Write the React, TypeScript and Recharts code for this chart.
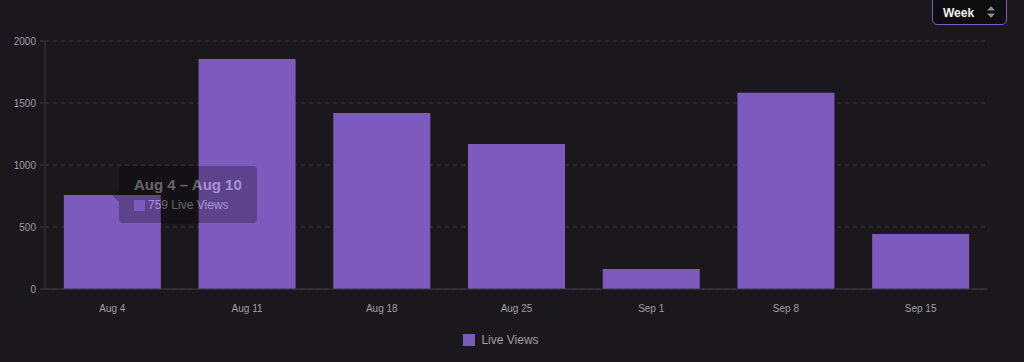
import React from "react";
import {
  BarChart,
  Bar,
  XAxis,
  YAxis,
  CartesianGrid,
  Tooltip,
  Legend,
} from "recharts";

const weeks = ["Aug 4", "Aug 11", "Aug 18", "Aug 25", "Sep 1", "Sep 8", "Sep 15"];
const weekEnds = ["Aug 10", "Aug 17", "Aug 24", "Aug 31", "Sep 7", "Sep 14", "Sep 21"];
const liveViews = [759, 1855, 1420, 1170, 162, 1582, 444];
const yTicks = [0, 500, 1000, 1500, 2000];

const data = weeks.map((w, i) => ({ week: w, end: weekEnds[i], views: liveViews[i] }));

const BG = "#1b181d";
const BAR = "#7d5bbe";
const LINE = "#3a373e";
const FONT = "'Liberation Sans', Arial, Helvetica, sans-serif";

// tooltip is caught mid-fade in the reference, hence the low opacity
function WeekTooltip({ active, payload }: any) {
  if (!active || !payload || !payload.length) return null;
  const p = payload[0].payload;
  return (
    <div style={{ position: "relative", opacity: 0.32, fontFamily: FONT }}>
      <div
        style={{
          position: "absolute",
          left: -6,
          top: 24,
          width: 0,
          height: 0,
          borderTop: "6px solid transparent",
          borderBottom: "6px solid transparent",
          borderRight: "6px solid rgba(0,0,0,0.8)",
        }}
      />
      <div
        style={{
          width: 138,
          height: 57,
          boxSizing: "border-box",
          background: "rgba(0,0,0,0.8)",
          borderRadius: 4,
          padding: "10px 0 0 15px",
          color: "#ffffff",
        }}
      >
        <div style={{ fontSize: 15, fontWeight: 700, lineHeight: "18px" }}>
          {p.week} – {p.end}
        </div>
        <div style={{ display: "flex", alignItems: "center", marginTop: 4, fontSize: 12 }}>
          <span
            style={{
              width: 11,
              height: 11,
              background: BAR,
              marginRight: 3,
              display: "inline-block",
            }}
          />
          {p.views} Live Views
        </div>
      </div>
    </div>
  );
}

function LegendContent() {
  return (
    <div
      style={{
        display: "flex",
        justifyContent: "center",
        alignItems: "center",
        paddingTop: 14,
        paddingLeft: 14,
        fontFamily: FONT,
        fontSize: 12,
        color: "#a19da6",
      }}
    >
      <span style={{ width: 12, height: 12, background: BAR, marginRight: 6, display: "inline-block" }} />
      Live Views
    </div>
  );
}

export default function App() {
  return (
    <div style={{ position: "relative", width: 1024, height: 362, background: BG, overflow: "hidden" }}>
      <style>{`body{margin:0;background:${BG};}`}</style>
      <BarChart
        width={1024}
        height={362}
        data={data}
        margin={{ top: 41, right: 36, bottom: 0, left: 0 }}
        barCategoryGap="14%"
      >
        <CartesianGrid vertical={false} strokeDasharray="4 4" stroke={LINE} />
        <XAxis
          dataKey="week"
          height={30}
          tickLine={false}
          axisLine={{ stroke: LINE }}
          tick={{ fontSize: 10, fill: "#a19da6", fontFamily: FONT }}
          tickMargin={10}
        />
        <YAxis
          width={45}
          domain={[0, 2000]}
          ticks={yTicks}
          tickLine={{ stroke: LINE }}
          tickSize={5}
          axisLine={{ stroke: LINE }}
          tick={{ fontSize: 10, fill: "#a19da6", fontFamily: FONT }}
          tickMargin={4}
        />
        <Tooltip
          content={<WeekTooltip />}
          defaultIndex={0}
          active
          cursor={false}
          position={{ x: 119, y: 166 }}
          isAnimationActive={false}
          wrapperStyle={{ outline: "none" }}
        />
        <Legend verticalAlign="bottom" height={43} content={<LegendContent />} />
        <Bar dataKey="views" name="Live Views" fill={BAR} isAnimationActive={false} />
      </BarChart>
      <div
        style={{
          position: "absolute",
          left: 932,
          top: -4,
          width: 75,
          height: 29,
          boxSizing: "border-box",
          border: "1px solid #7a5cc2",
          borderRadius: 5,
          background: "#0e0d10",
          fontFamily: FONT,
          fontSize: 12,
          fontWeight: 700,
          color: "#f2f2f2",
          display: "flex",
          alignItems: "center",
          paddingTop: 4,
          paddingLeft: 10,
        }}
      >
        Week
        <svg width="8" height="12" viewBox="0 0 8 12" style={{ position: "absolute", left: 54, top: 9 }}>
          <path d="M4 0 L8 4.5 L0 4.5 Z" fill="#8e8a93" />
          <path d="M4 12 L8 7.5 L0 7.5 Z" fill="#8e8a93" />
        </svg>
      </div>
    </div>
  );
}
